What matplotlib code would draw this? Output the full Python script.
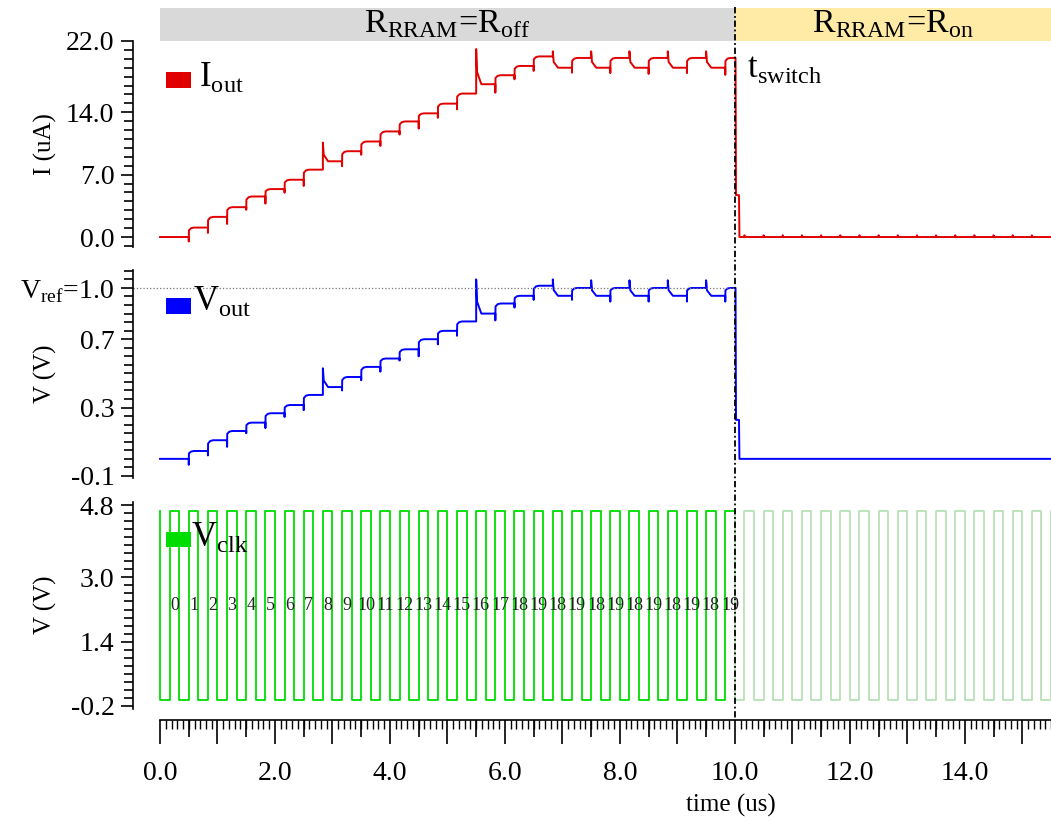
import numpy as np
import matplotlib
matplotlib.use("Agg")
import matplotlib.pyplot as plt
import matplotlib.transforms as mtransforms
from matplotlib.ticker import FixedLocator, FixedFormatter
from matplotlib.patches import Rectangle
from matplotlib.lines import Line2D

plt.rcParams['font.family'] = ['Liberation Serif', 'DejaVu Serif']
plt.rcParams['mathtext.fontset'] = 'custom'
plt.rcParams['mathtext.rm'] = 'Liberation Serif'

# ---------------- data ----------------
clk_period = 1.0 / 3.0      # us
clk_high = 4.66             # V
clk_low = -0.05             # V
t_switch = 10.0             # us
t_end = 15.5                # us
v_ref = 1.0

count_labels = [str(i) for i in range(20)] + ['18', '19'] * 5

# level of each clock cycle (after the rising edge of cycle k)
i_levels = [0.0, 1.06, 2.26, 3.35, 4.55, 5.38, 6.43, 7.56, 8.5, 9.63,
            10.72, 11.85, 12.97, 13.88, 14.97, 16.1, 17.15, 18.16, 19.2, 20.27,
            19.0, 20.1, 19.0, 20.1, 19.0, 20.1, 19.0, 20.1, 19.0, 20.1]
# extreme value of the glitch at each rising edge
i_glitch = [0.0, -0.5, 0.46, 1.46, 3.05, 3.75, 4.98, 5.73, 10.6, 7.95,
            9.23, 10.22, 11.5, 12.17, 13.38, 14.33, 21.1, 16.2, 17.7, 18.64,
            20.84, 18.44, 20.84, 18.4, 20.84, 18.3, 20.84, 18.4, 20.84, 18.2]

v_levels = [0.0, 0.046, 0.109, 0.163, 0.212, 0.267, 0.315, 0.374, 0.42, 0.479,
            0.538, 0.587, 0.641, 0.70, 0.749, 0.804, 0.85, 0.909, 0.954, 1.013,
            0.954, 1.0, 0.954, 1.0, 0.954, 1.0, 0.954, 1.0, 0.954, 1.0]
v_glitch = [0.0, -0.035, 0.02, 0.07, 0.15, 0.18, 0.245, 0.285, 0.53, 0.40,
            0.46, 0.51, 0.575, 0.60, 0.67, 0.72, 1.05, 0.81, 0.885, 0.93,
            1.05, 0.93, 1.045, 0.92, 1.045, 0.92, 1.045, 0.92, 1.045, 0.92]

i_switch_mid = 4.7     # uA, short plateau right after t_switch
v_switch_mid = 0.228   # V
i_after = 0.0
v_after = 0.0
i_post_spike = 0.2     # small spikes at clock edges after switching
v_post_spike = 0.0

# ---------------- helpers ----------------
def staircase(levels, glitch, after, mid, post_spike):
    edges = [(k + 0.5) * clk_period for k in range(len(levels))]
    ts, ys = [0.0], [levels[0]]
    for k in range(1, len(levels)):
        te, prev, new, g = edges[k], levels[k - 1], levels[k], glitch[k]
        ts += [te, te]
        ys += [prev, g]
        if g > max(prev, new):
            ts += [te + 0.015, te + 0.09]
            ys += [new + 0.35 * (g - new), new]
        else:
            ts += [te + 0.003, te + 0.04, te + 0.09]
            ys += [new - 0.3 * (new - prev), new - 0.07 * (new - prev), new]
    last = levels[-1]
    ts += [t_switch + 0.012, t_switch + 0.02, t_switch + 0.072, t_switch + 0.08]
    ys += [last, mid, mid, after]
    k = len(levels)
    while (k + 0.5) * clk_period < t_end:
        te = (k + 0.5) * clk_period
        ts += [te, te, te + 0.01]
        ys += [after, after + post_spike, after]
        k += 1
    ts.append(t_end)
    ys.append(after)
    return ts, ys


W, H = 1051, 821
fig = plt.figure(figsize=(W / 100, H / 100), dpi=100)


def px_axes(x0, y0, x1, y1):
    return fig.add_axes([x0 / W, 1 - y1 / H, (x1 - x0) / W, (y1 - y0) / H])


ax_i = px_axes(133, 41, 1051, 247)
ax_v = px_axes(133, 270, 1051, 478)
ax_c = px_axes(133, 502, 1051, 709)

RED, BLUE, GREEN = '#e00000', '#0000ff', '#00dd00'
TICK_FS = 20

# ---------------- traces ----------------
ti, yi = staircase(i_levels, i_glitch, i_after, i_switch_mid, i_post_spike)
ax_i.plot(ti, yi, color=RED, lw=1.4)

tv, yv = staircase(v_levels, v_glitch, v_after, v_switch_mid, v_post_spike)
ax_v.plot(tv, yv, color=BLUE, lw=1.4)
ax_v.hlines(v_ref, -0.47, t_switch, colors='#777777', linestyles=':', lw=0.9)

# clock
half = clk_period / 2
n_half = int(np.floor(t_end / half)) + 1
n_solid = int(round(t_switch / half))
ct_s, cy_s, ct_f, cy_f = [0.0], [clk_high], [], []
for j in range(n_half):
    a, b = j * half, min((j + 1) * half, t_end)
    val = clk_low if j % 2 == 0 else clk_high
    if j < n_solid:
        ct_s += [a, b]
        cy_s += [val, val]
    else:
        ct_f += [a, b]
        cy_f += [val, val]
ax_c.plot(ct_s, cy_s, color=GREEN, lw=1.3)
ax_c.plot([ct_s[-1]] + ct_f, [cy_s[-1]] + cy_f, color='#b8e2b8', lw=1.3)

for k, lab in enumerate(count_labels):
    ax_c.text((k + 0.75) * clk_period, 2.29, lab, ha='center', va='center',
              fontsize=13, color='#222222')

# ---------------- axes styling ----------------
for ax in (ax_i, ax_v, ax_c):
    ax.set_xlim(-0.47, t_end)
    ax.patch.set_alpha(0)
    for s in ('top', 'right'):
        ax.spines[s].set_visible(False)
    ax.spines['left'].set_linewidth(1.2)
    ax.tick_params(axis='y', which='major', direction='out', length=8.4,
                   width=1.2, labelsize=TICK_FS, pad=5)
    ax.tick_params(axis='y', which='minor', direction='out', length=6.7, width=1.2)

for ax in (ax_i, ax_v):
    ax.spines['bottom'].set_visible(False)
    ax.tick_params(axis='x', which='both', bottom=False, labelbottom=False)

ax_i.set_ylim(-1.12, 22.0)
ax_i.yaxis.set_major_locator(FixedLocator([0, 7, 14, 22]))
ax_i.yaxis.set_major_formatter(FixedFormatter(['0.0', '7.0', '14.0', '22.0']))
ax_i.yaxis.set_minor_locator(FixedLocator(np.arange(-1, 23, 1)))

ax_v.set_ylim(-0.112, 1.105)
ax_v.yaxis.set_major_locator(FixedLocator([-0.1, 0.3, 0.7, 1.0]))
ax_v.yaxis.set_major_formatter(FixedFormatter(['-0.1', '0.3', '0.7',
                                               r'V$_\mathregular{ref}$=1.0']))
ax_v.yaxis.set_minor_locator(FixedLocator(np.arange(-0.1, 1.11, 0.05)))

ax_c.set_ylim(-0.275, 4.875)
ax_c.yaxis.set_major_locator(FixedLocator([-0.2, 1.4, 3.0, 4.8]))
ax_c.yaxis.set_major_formatter(FixedFormatter(['-0.2', '1.4', '3.0', '4.8']))
ax_c.yaxis.set_minor_locator(FixedLocator(np.arange(-0.2, 4.85, 0.2)))

# bottom time axis
ax_c.spines['bottom'].set_position(('outward', 7.9))
ax_c.spines['bottom'].set_bounds(0, t_end)
ax_c.spines['bottom'].set_linewidth(1.2)
xmaj = np.arange(0, 16, 1)
ax_c.xaxis.set_major_locator(FixedLocator(xmaj))
ax_c.xaxis.set_major_formatter(FixedFormatter(
    ['%.1f' % v if int(v) % 2 == 0 else '' for v in xmaj]))
ax_c.xaxis.set_minor_locator(FixedLocator(np.arange(0, 15.55, 0.1)))
ax_c.tick_params(axis='x', which='major', direction='out', length=17.5,
                 width=1.2, labelsize=TICK_FS, pad=12)
ax_c.tick_params(axis='x', which='minor', direction='out', length=6.8, width=1.0)

sec = ax_c.secondary_xaxis(-11 / 207)
sec.spines['bottom'].set_visible(False)
sec.xaxis.set_major_locator(FixedLocator(np.arange(0.5, 15.5, 1.0)))
sec.tick_params(axis='x', which='major', direction='out', length=12.2,
                width=1.2, labelbottom=False)
sec.tick_params(axis='x', which='minor', bottom=False)

# ---------------- header, annotations ----------------
trans = mtransforms.blended_transform_factory(ax_i.transData, fig.transFigure)
fig.add_artist(Rectangle((0, 1 - 41 / H), t_switch, 33 / H, transform=trans,
                         facecolor='#d9d9d9', edgecolor='none', clip_on=False))
fig.add_artist(Rectangle((t_switch, 1 - 41 / H), t_end - t_switch, 33 / H,
                         transform=trans, facecolor='#ffeaa6', edgecolor='none',
                         clip_on=False))
fig.text(t_switch / 2, 1 - 32.7 / H,
         r'R$_\mathregular{RRAM}$=R$_\mathregular{off}$', transform=trans,
         ha='center', va='baseline', fontsize=24.5)
fig.text((t_switch + t_end) / 2, 1 - 32.7 / H,
         r'R$_\mathregular{RRAM}$=R$_\mathregular{on}$', transform=trans,
         ha='center', va='baseline', fontsize=24.5)

fig.add_artist(Line2D([t_switch, t_switch], [1 - 7 / H, 1 - 721 / H],
                      transform=trans, color='black', lw=1.3,
                      ls=(0, (3.5, 1.5, 1, 1.5))))

# legend-like labels
for (y0, y1, col, txt, tx, ty) in [
        (71.7, 88.3, RED, r'I$_\mathregular{out}$', 199, 86),
        (298.3, 314.0, BLUE, r'V$_\mathregular{out}$', 193, 310),
        (532.3, 547.3, GREEN, r'V$_\mathregular{clk}$', 191, 546)]:
    fig.add_artist(Rectangle((166 / W, 1 - y1 / H), 24.7 / W, (y1 - y0) / H,
                             transform=fig.transFigure, facecolor=col,
                             edgecolor='none'))
    fig.text(tx / W, 1 - ty / H, txt, fontsize=25, va='baseline', ha='left')

fig.text(747 / W, 1 - 77 / H, r't$_\mathregular{switch}$', fontsize=25,
         va='baseline', ha='left')

fig.text(45 / W, 1 - 144 / H, 'I (uA)', rotation=90, ha='center', va='center',
         fontsize=18)
fig.text(45 / W, 1 - 374 / H, 'V (V)', rotation=90, ha='center', va='center',
         fontsize=18)
fig.text(45 / W, 1 - 605 / H, 'V (V)', rotation=90, ha='center', va='center',
         fontsize=18)
fig.text(731 / W, 1 - 805 / H, 'time (us)', ha='center', va='center', fontsize=18)

fig.savefig('out.png', dpi=100)
